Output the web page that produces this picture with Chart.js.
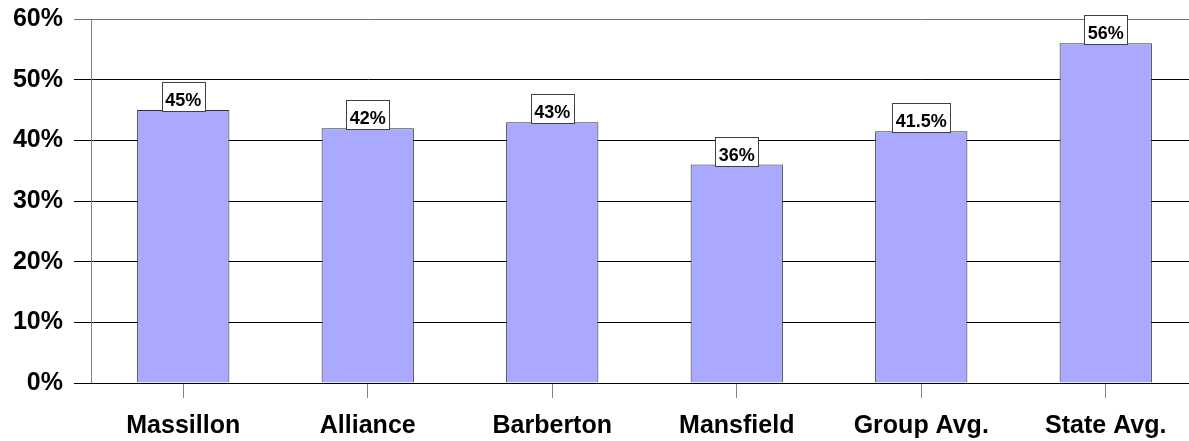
<!DOCTYPE html>
<html>
<head>
<meta charset="utf-8">
<script src="https://cdn.jsdelivr.net/npm/chart.js@4/dist/chart.umd.min.js"></script>
<style>
  html, body { margin: 0; padding: 0; background: #fff; overflow: hidden; }
</style>
</head>
<body>
<canvas id="rateChart" width="1210" height="441"></canvas>
<script>
var cities = ["Massillon", "Alliance", "Barberton", "Mansfield", "Group Avg.", "State Avg."]
var rates = [45, 42, 43, 36, 41.5, 56]
var yTicks = [0, 10, 20, 30, 40, 50, 60]

Chart.defaults.font.family = "'Liberation Sans', Arial, sans-serif"
Chart.defaults.color = "#000"

// white boxed value labels sitting on top of each bar
const boxedLabels = {
    id: 'boxedLabels',
    afterDatasetsDraw(chart){
        const ctx = chart.ctx
        const meta = chart.getDatasetMeta(0)
        ctx.save()
        ctx.font = "bold 18px 'Liberation Sans', Arial, sans-serif"
        ctx.textAlign = 'center'
        ctx.textBaseline = 'alphabetic'
        meta.data.forEach((bar, i) => {
            const text = rates[i] + '%'
            const w = Math.round(ctx.measureText(text).width) + 7
            const h = 29
            const x = Math.round(bar.x - w / 2) + 0.5
            const y = Math.round(bar.y) - h + 1.5
            ctx.fillStyle = '#fff'
            ctx.fillRect(x, y, w, h)
            ctx.strokeStyle = '#404040'
            ctx.lineWidth = 1
            ctx.strokeRect(x, y, w, h)
            ctx.fillStyle = '#000'
            ctx.fillText(text, bar.x, y + h - 6)
        })
        ctx.restore()
    }
}

new Chart(document.getElementById('rateChart'), {
    type: 'bar',
    data: {
        labels: cities,
        datasets: [{
            data: rates,
            backgroundColor: '#A9AAFF',
            borderColor: '#303030',
            borderWidth: 1,
            barPercentage: 0.5,
            categoryPercentage: 1
        }]
    },
    options: {
        responsive: false,
        animation: false,
        layout: { padding: { top: 19, right: 12, left: 0, bottom: 0 } },
        scales: {
            y: {
                min: 0,
                max: 60,
                afterFit: (scale) => {
                    scale.width = 91
                    scale.paddingTop = 0
                    scale.paddingBottom = 0
                },
                afterBuildTicks: (scale) => { scale.ticks = yTicks.map(v => ({ value: v })) },
                grid: {
                    color: (c) => c.tick && c.tick.value === 60 ? '#707070' : '#000',
                    tickLength: 17,
                    lineWidth: 1
                },
                border: { color: '#808080', width: 1 },
                ticks: {
                    padding: 11,
                    font: { size: 25, weight: 'bold' },
                    callback: (v) => v + '%'
                }
            },
            x: {
                afterFit: (scale) => { scale.height = 58 },
                grid: {
                    offset: false,
                    drawOnChartArea: false,
                    tickLength: 15,
                    color: '#808080'
                },
                border: { color: '#000', width: 1 },
                ticks: {
                    padding: 13,
                    font: { size: 25, weight: 'bold' }
                }
            }
        },
        plugins: {
            legend: { display: false },
            tooltip: { enabled: false }
        }
    },
    plugins: [boxedLabels]
})
</script>
</body>
</html>
